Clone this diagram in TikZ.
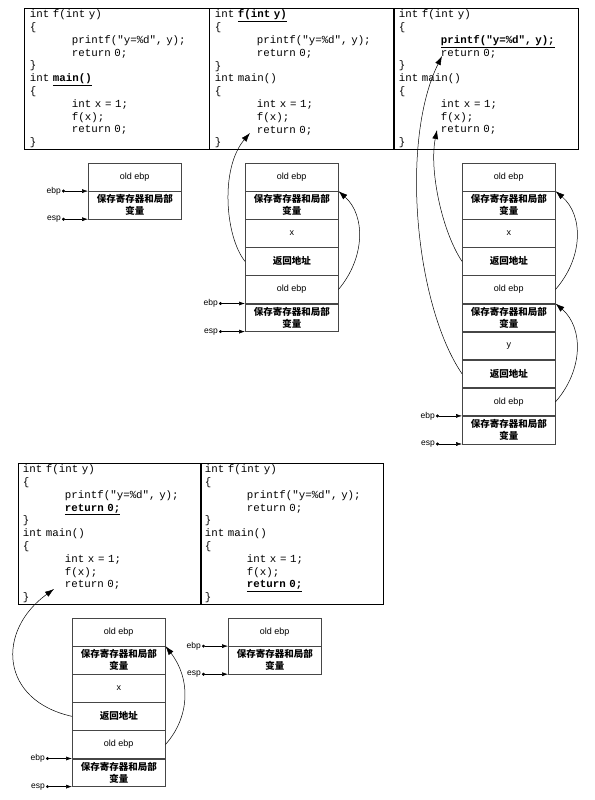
\documentclass[tikz,border=0pt]{standalone}
\usepackage{fontspec}
\setmainfont{Liberation Serif}
\setsansfont{Liberation Sans}
\setmonofont{Liberation Mono}
\newfontfamily\cjk{Noto Sans CJK SC}
\usepackage{xcolor}
\usepackage{tikz}
\usetikzlibrary{arrows.meta, positioning}
\definecolor{framegray}{RGB}{70,70,70}
\newcommand{\codefont}{\ttfamily\frenchspacing\fontsize{10.8}{12.8}\selectfont
  \spaceskip=0.6em\relax\xspaceskip=0.6em\relax}
\newcommand{\ind}{\hspace*{42pt}}
\newcommand{\cur}[1]{\underline{\textbf{#1}}}

\begin{document}
\begin{tikzpicture}[x=1pt, y=-1pt,
    codebox/.style={draw, line width=0.9pt, anchor=north west, text width=174pt,
      inner xsep=5.5pt, inner ysep=0pt, minimum height=141pt, align=left, font=\codefont},
    cell/.style={draw=framegray, line width=0.5pt, minimum width=93pt, minimum height=27.6pt,
      inner sep=0pt, font=\sffamily\fontsize{9}{11}\selectfont},
    regcell/.style={cell, align=center, font=\cjk\bfseries\fontsize{9.5}{12}\selectfont},
    reg/.style={inner sep=1pt, font=\sffamily\fontsize{8.5}{10}\selectfont},
    ptr/.style={{Circle[length=3pt]}-{Latex[length=6pt,width=4pt]}, line width=0.5pt},
    back/.style={-{Latex[length=9pt,width=6pt]}, line width=0.5pt}]
  \useasboundingbox (0,0) rectangle (594,800);

  % code, top row
  \node[codebox] (code1) at (24,8) {int f(int y)\\
    \{\\
    \ind printf("y=\%d", y);\\
    \ind return 0;\\
    \}\\
    int \cur{main()}\\
    \{\\
    \ind int x = 1;\\
    \ind f(x);\\
    \ind return 0;\\
    \}};
  \node[codebox] (code2) at (209,8) {int \cur{f(int y)}\\
    \{\\
    \ind printf("y=\%d", y);\\
    \ind return 0;\\
    \}\\
    int main()\\
    \{\\
    \ind int x = 1;\\
    \ind f(x);\\
    \ind return 0;\\
    \}};
  \node[codebox] (code3) at (393,8) {int f(int y)\\
    \{\\
    \ind \cur{printf("y=\%d", y);}\\
    \ind return 0;\\
    \}\\
    int main()\\
    \{\\
    \ind int x = 1;\\
    \ind f(x);\\
    \ind return 0;\\
    \}};

  % code, bottom row
  \node[codebox, inner xsep=4.5pt] (code4) at (18,463) {int f(int y)\\
    \{\\
    \ind printf("y=\%d", y);\\
    \ind \cur{return 0;}\\
    \}\\
    int main()\\
    \{\\
    \ind int x = 1;\\
    \ind f(x);\\
    \ind return 0;\\
    \}};
  \node[codebox, inner xsep=4.5pt] (code5) at (200,463) {int f(int y)\\
    \{\\
    \ind printf("y=\%d", y);\\
    \ind return 0;\\
    \}\\
    int main()\\
    \{\\
    \ind int x = 1;\\
    \ind f(x);\\
    \ind \cur{return 0;}\\
    \}};

  \coordinate (t2) at (250,133);
  \coordinate (t3a) at (437,130);
  \coordinate (t3b) at (442,56);
  \coordinate (t4) at (54,589);

  % stack 1
  \node[cell, anchor=north west] (a1) at (88,163) {old ebp};
  \node[regcell, below=0pt of a1] (a2) {保存寄存器和局部\\变量};
  \node[reg, left=26pt of a1.south west] (bp1) {ebp};
  \node[reg, left=26pt of a2.south west] (sp1) {esp};
  \draw[ptr] (bp1.east) -- (a1.south west);
  \draw[ptr] (sp1.east) -- (a2.south west);

  % stack 2
  \node[cell, anchor=north west] (b1) at (245,163) {old ebp};
  \node[regcell, below=0pt of b1] (b2) {保存寄存器和局部\\变量};
  \node[cell, below=0pt of b2] (b3) {x};
  \node[regcell, below=0pt of b3] (b4) {返回地址};
  \node[cell, below=0pt of b4] (b5) {old ebp};
  \node[regcell, below=0pt of b5] (b6) {保存寄存器和局部\\变量};
  \node[reg, left=26pt of b5.south west] (bp2) {ebp};
  \node[reg, left=26pt of b6.south west] (sp2) {esp};
  \draw[ptr] (bp2.east) -- (b5.south west);
  \draw[ptr] (sp2.east) -- (b6.south west);
  \draw[back] (b4.west) .. controls +(-20,-25) and +(-30,35) .. (t2);
  \draw[back] (b5.east) .. controls +(27,-32) and +(27,24) .. (b2.north east);

  % stack 3
  \node[cell, anchor=north west] (c1) at (462,163) {old ebp};
  \node[regcell, below=0pt of c1] (c2) {保存寄存器和局部\\变量};
  \node[cell, below=0pt of c2] (c3) {x};
  \node[regcell, below=0pt of c3] (c4) {返回地址};
  \node[cell, below=0pt of c4] (c5) {old ebp};
  \node[regcell, below=0pt of c5] (c6) {保存寄存器和局部\\变量};
  \node[cell, below=0pt of c6] (c7) {y};
  \node[regcell, below=0pt of c7] (c8) {返回地址};
  \node[cell, below=0pt of c8] (c9) {old ebp};
  \node[regcell, below=0pt of c9] (c10) {保存寄存器和局部\\变量};
  \node[reg, left=26pt of c9.south west] (bp3) {ebp};
  \node[reg, left=26pt of c10.south west] (sp3) {esp};
  \draw[ptr] (bp3.east) -- (c9.south west);
  \draw[ptr] (sp3.east) -- (c10.south west);
  \draw[back] (c4.west) .. controls +(-20,-30) and +(-8,40) .. (t3a);
  \draw[back] (c8.west) .. controls +(-47,-69) and +(-42,85) .. (t3b);
  \draw[back] (c5.east) .. controls +(28,-32) and +(28,24) .. (c2.north east);
  \draw[back] (c9.east) .. controls +(28,-32) and +(28,24) .. (c6.north east);

  % stack 4
  \node[cell, anchor=north west] (d1) at (72,618) {old ebp};
  \node[regcell, below=0pt of d1] (d2) {保存寄存器和局部\\变量};
  \node[cell, below=0pt of d2] (d3) {x};
  \node[regcell, below=0pt of d3] (d4) {返回地址};
  \node[cell, below=0pt of d4] (d5) {old ebp};
  \node[regcell, below=0pt of d5] (d6) {保存寄存器和局部\\变量};
  \node[reg, left=26pt of d5.south west] (bp4) {ebp};
  \node[reg, left=26pt of d6.south west] (sp4) {esp};
  \draw[ptr] (bp4.east) -- (d5.south west);
  \draw[ptr] (sp4.east) -- (d6.south west);
  \draw[back] (d4.west) .. controls +(-72,-16) and +(-58,42) .. (t4);
  \draw[back] (d5.east) .. controls +(25,-28) and +(25,32) .. (d2.north east);

  % stack 5
  \node[cell, anchor=north west] (e1) at (228,618) {old ebp};
  \node[regcell, below=0pt of e1] (e2) {保存寄存器和局部\\变量};
  \node[reg, left=26pt of e1.south west] (bp5) {ebp};
  \node[reg, left=26pt of e2.south west] (sp5) {esp};
  \draw[ptr] (bp5.east) -- (e1.south west);
  \draw[ptr] (sp5.east) -- (e2.south west);
\end{tikzpicture}
\end{document}
